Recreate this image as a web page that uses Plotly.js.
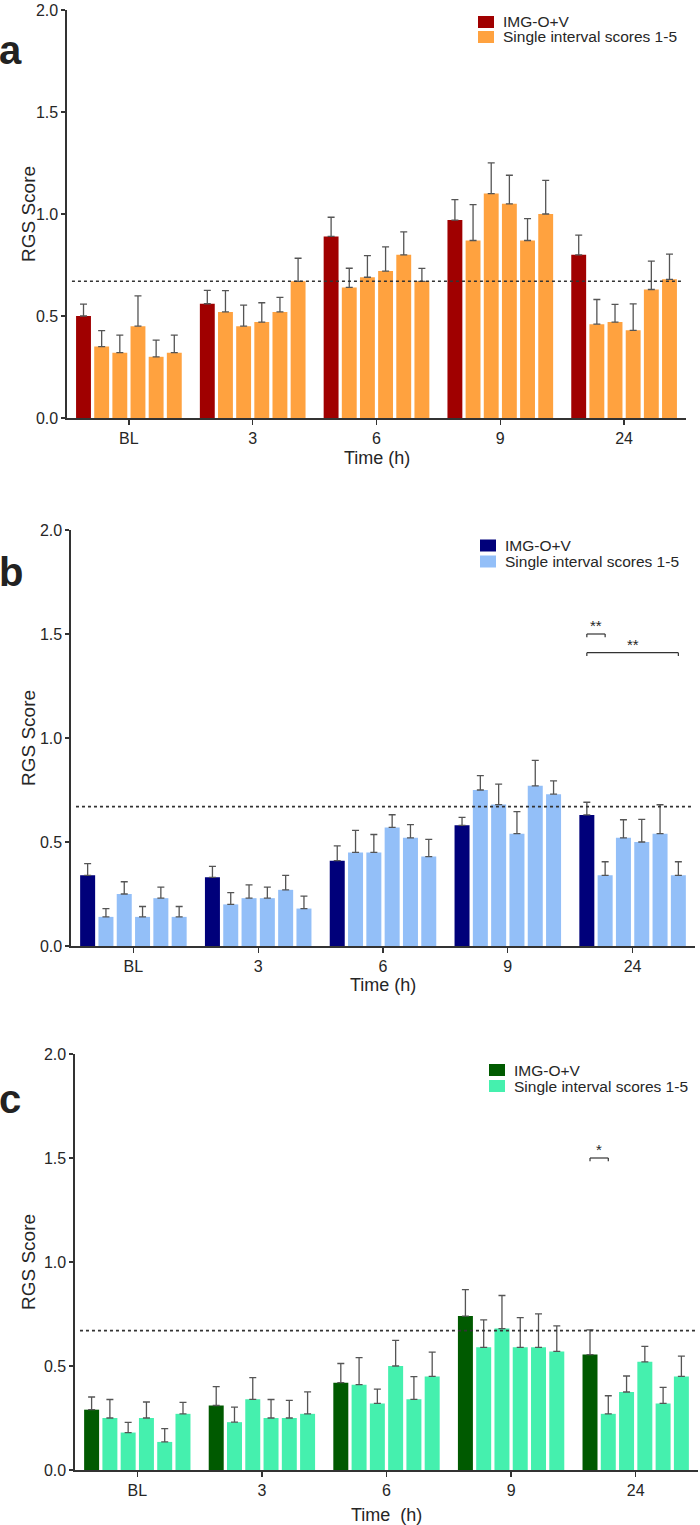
<!DOCTYPE html>
<html>
<head>
<meta charset="utf-8">
<script src="https://cdn.plot.ly/plotly-3.0.1.min.js"></script>
<style>html,body{margin:0;padding:0;background:#fff;}#chart{width:700px;height:1525px;}</style>
</head>
<body>
<div id="chart"></div>
<script>
// ---------- DATA ----------
const timeLabels = ['BL', '3', '6', '9', '24'];
const seriesNames = ['IMG-O+V', 'Single interval scores 1-5'];
const threshold = 0.67;

// Panel a (rows: IMG-O+V, interval 1..5; columns: BL,3,6,9,24)
const aMean = [
  [0.50, 0.56, 0.89, 0.97, 0.80],
  [0.35, 0.52, 0.64, 0.87, 0.46],
  [0.32, 0.45, 0.69, 1.10, 0.47],
  [0.45, 0.47, 0.72, 1.05, 0.43],
  [0.30, 0.52, 0.80, 0.87, 0.63],
  [0.32, 0.67, 0.67, 1.00, 0.68]
];
const aSem = [
  [0.058, 0.066, 0.094, 0.100, 0.096],
  [0.078, 0.104, 0.094, 0.176, 0.121],
  [0.086, 0.103, 0.106, 0.151, 0.087],
  [0.149, 0.095, 0.119, 0.140, 0.129],
  [0.082, 0.071, 0.112, 0.107, 0.139],
  [0.086, 0.113, 0.063, 0.165, 0.123]
];

// Panel b
const bMean = [
  [0.34, 0.33, 0.41, 0.58, 0.63],
  [0.14, 0.20, 0.45, 0.75, 0.34],
  [0.25, 0.23, 0.45, 0.68, 0.52],
  [0.14, 0.23, 0.57, 0.54, 0.50],
  [0.23, 0.27, 0.52, 0.77, 0.54],
  [0.14, 0.18, 0.43, 0.73, 0.34]
];
const bSem = [
  [0.056, 0.053, 0.071, 0.038, 0.061],
  [0.040, 0.057, 0.106, 0.069, 0.065],
  [0.059, 0.064, 0.086, 0.098, 0.087],
  [0.050, 0.053, 0.061, 0.106, 0.109],
  [0.053, 0.070, 0.064, 0.122, 0.139],
  [0.050, 0.060, 0.083, 0.064, 0.065]
];

// Panel c
const cMean = [
  [0.29, 0.31, 0.42, 0.74, 0.555],
  [0.25, 0.23, 0.41, 0.59, 0.27],
  [0.18, 0.34, 0.32, 0.68, 0.375],
  [0.25, 0.25, 0.50, 0.59, 0.52],
  [0.135, 0.25, 0.34, 0.59, 0.32],
  [0.27, 0.27, 0.45, 0.57, 0.45]
];
const cSem = [
  [0.061, 0.091, 0.092, 0.127, 0.119],
  [0.089, 0.072, 0.130, 0.132, 0.087],
  [0.049, 0.104, 0.069, 0.159, 0.077],
  [0.077, 0.089, 0.123, 0.143, 0.074],
  [0.064, 0.085, 0.109, 0.161, 0.077],
  [0.055, 0.106, 0.117, 0.123, 0.097]
];

// Significance brackets: category index, from series, to series, level, label
const bSig = [
  {cat: 4, from: 0, to: 1, y: 1.50, label: '**'},
  {cat: 4, from: 0, to: 5, y: 1.41, label: '**'}
];
const cSig = [
  {cat: 4, from: 0, to: 1, y: 1.50, label: '*'}
];

// ---------- STYLE ----------
const FONT = 'Liberation Sans, Arial, Helvetica, sans-serif';
const TXT = '#262626';
const AX = '#333333';
const BARGAP = 0.12, BARGROUPGAP = 0.18, NSER = 6;
const slot = (1 - BARGAP) / NSER;

const panels = [
  {id: '', letter: 'a', mean: aMean, sem: aSem, dark: '#a00000', light: '#ffa23f',
   xdom: [67/700, 686/700], ydom: [1 - 418/1525, 1 - 10/1525], sig: [],
   xtitle: 'Time (h)', xtShift: -40, letterY: 1 - 50/1525,
   legX: 478/700, legY1: 22, legY2: 37},
  {id: '2', letter: 'b', mean: bMean, sem: bSem, dark: '#00007a', light: '#93bff8',
   xdom: [71/700, 695/700], ydom: [1 - 946/1525, 1 - 530/1525], sig: bSig,
   xtitle: 'Time (h)', xtShift: -39, letterY: 1 - 572/1525,
   legX: 480/700, legY1: 545.5, legY2: 561.5},
  {id: '3', letter: 'c', mean: cMean, sem: cSem, dark: '#005a00', light: '#45f0ae',
   xdom: [75/700, 698/700], ydom: [1 - 1470/1525, 1 - 1054/1525], sig: cSig,
   xtitle: 'Time\u00a0 (h)', xtShift: -45, letterY: 1 - 1099/1525,
   legX: 489/700, legY1: 1070, legY2: 1086}
];

const data = [];
const layout = {
  width: 700, height: 1525,
  margin: {l: 0, r: 0, t: 0, b: 0},
  paper_bgcolor: '#fff', plot_bgcolor: '#fff',
  showlegend: false,
  barmode: 'group', bargap: BARGAP, bargroupgap: BARGROUPGAP,
  font: {family: FONT, color: TXT},
  shapes: [], annotations: []
};

panels.forEach(p => {
  const xa = 'x' + p.id, ya = 'y' + p.id;
  const xKey = 'xaxis' + p.id, yKey = 'yaxis' + p.id;
  for (let s = 0; s < NSER; s++) {
    data.push({
      type: 'bar', x: timeLabels, y: p.mean[s],
      xaxis: xa, yaxis: ya,
      name: s === 0 ? seriesNames[0] : seriesNames[1],
      marker: {color: s === 0 ? p.dark : p.light, line: {width: 0}},
      error_y: {type: 'data', symmetric: false, array: p.sem[s],
                arrayminus: p.sem[s].map(() => 0),
                color: '#555', thickness: 1.3, width: 3.5},
      hoverinfo: 'skip'
    });
  }
  layout[xKey] = {
    domain: p.xdom, anchor: ya, type: 'category', range: [-0.5, 4.5],
    showline: true, linecolor: AX, linewidth: 1.6, mirror: false,
    ticks: 'outside', ticklen: 5, tickwidth: 1.4, tickcolor: AX,
    showgrid: false, zeroline: false, fixedrange: true, ticklabeloverflow: 'allow',
    tickfont: {family: FONT, size: 16, color: TXT}
  };
  layout[yKey] = {
    domain: p.ydom, anchor: xa, range: [0, 2], dtick: 0.5, tick0: 0, tickformat: '.1f',
    showline: true, linecolor: AX, linewidth: 1.6,
    ticks: 'outside', ticklen: 4, tickwidth: 1.4, tickcolor: AX,
    showgrid: false, zeroline: false, fixedrange: true, ticklabeloverflow: 'allow',
    tickfont: {family: FONT, size: 16, color: TXT}
  };
  // threshold dotted line
  layout.shapes.push({type: 'line', xref: xa + ' domain', yref: ya,
    x0: 0.008, x1: 0.996, y0: threshold, y1: threshold,
    line: {color: '#333', width: 1.6, dash: 'dot'}, layer: 'above'});
  // y title
  layout.annotations.push({text: 'RGS Score', textangle: -90, xref: 'paper', yref: ya + ' domain',
    x: 28/700, y: 0.5, xanchor: 'center', yanchor: 'middle', showarrow: false,
    font: {family: FONT, size: 19, color: TXT}});
  // x title
  layout.annotations.push({text: p.xtitle, xref: xa + ' domain', yref: ya + ' domain',
    x: 0.5, y: 0, yshift: p.xtShift, xanchor: 'center', yanchor: 'middle', showarrow: false,
    font: {family: FONT, size: 18, color: TXT}});
  // panel letter
  layout.annotations.push({text: '<b>' + p.letter + '</b>', xref: 'paper', yref: 'paper',
    x: -0.004, y: p.letterY, xanchor: 'left', yanchor: 'middle', showarrow: false,
    font: {family: FONT, size: 40, color: '#222'}});
  // legend (manual)
  const legW = 16/700, sw = 6/1525;
  [[p.legY1, p.dark, seriesNames[0]], [p.legY2, p.light, seriesNames[1]]].forEach(([yc, col, txt]) => {
    const yy = 1 - yc/1525;
    layout.shapes.push({type: 'rect', xref: 'paper', yref: 'paper',
      x0: p.legX, x1: p.legX + legW, y0: yy - sw, y1: yy + sw,
      fillcolor: col, line: {width: 0}});
    layout.annotations.push({text: txt, xref: 'paper', yref: 'paper',
      x: p.legX + legW + 7/700, y: yy, xanchor: 'left', yanchor: 'middle', showarrow: false,
      font: {family: FONT, size: 15.5, color: TXT}});
  });
  // significance brackets
  p.sig.forEach(sg => {
    const x0 = sg.cat + (sg.from - (NSER - 1) / 2) * slot;
    const x1 = sg.cat + (sg.to - (NSER - 1) / 2) * slot;
    const dy = 0.016;
    const ln = {color: '#333', width: 1.2};
    layout.shapes.push({type: 'line', xref: xa, yref: ya, x0: x0, x1: x1, y0: sg.y, y1: sg.y, line: ln});
    layout.shapes.push({type: 'line', xref: xa, yref: ya, x0: x0, x1: x0, y0: sg.y, y1: sg.y - dy, line: ln});
    layout.shapes.push({type: 'line', xref: xa, yref: ya, x0: x1, x1: x1, y0: sg.y, y1: sg.y - dy, line: ln});
    layout.annotations.push({text: sg.label, xref: xa, yref: ya, x: (x0 + x1) / 2, y: sg.y,
      xanchor: 'center', yanchor: 'bottom', yshift: -2, showarrow: false,
      font: {family: FONT, size: 15, color: TXT}});
  });
});

Plotly.newPlot('chart', data, layout, {staticPlot: true, displayModeBar: false});
</script>
</body>
</html>
